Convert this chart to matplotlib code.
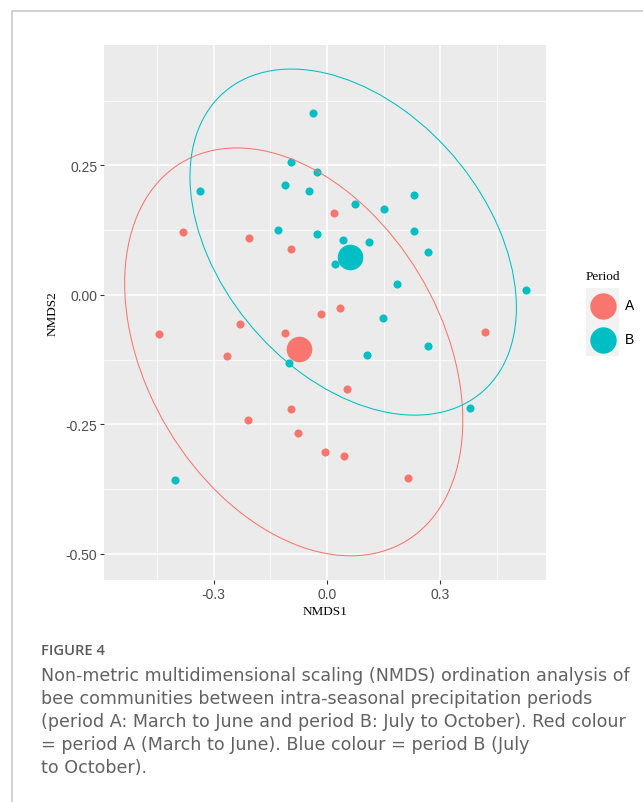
import numpy as np
import matplotlib
matplotlib.use("Agg")
import matplotlib.pyplot as plt
from matplotlib.patches import Ellipse, Rectangle
from matplotlib.lines import Line2D

# NMDS scores
period_a_x = [0.018, -0.381, -0.207, -0.094, 0.034, -0.016, -0.231, -0.445, -0.110,
              0.418, -0.266, 0.052, -0.096, -0.209, -0.077, -0.004, 0.046, 0.216]
period_a_y = [0.159, 0.122, 0.109, 0.089, -0.025, -0.037, -0.057, -0.076, -0.074,
              -0.071, -0.118, -0.182, -0.220, -0.241, -0.267, -0.304, -0.311, -0.353]
period_b_x = [-0.037, -0.096, -0.027, -0.337, -0.112, -0.047, 0.232, 0.074, 0.151,
              -0.131, -0.026, 0.230, 0.043, 0.112, 0.268, 0.022, 0.185, 0.527,
              0.148, 0.268, 0.107, -0.101, 0.380, -0.402]
period_b_y = [0.351, 0.256, 0.237, 0.201, 0.213, 0.201, 0.192, 0.175, 0.166,
              0.126, 0.118, 0.124, 0.107, 0.102, 0.083, 0.060, 0.022, 0.010,
              -0.044, -0.098, -0.116, -0.131, -0.219, -0.358]
centroid_a = (-0.074, -0.104)
centroid_b = (0.060, 0.073)

# 95% ellipses: centre x, centre y, full width, full height, angle (deg)
ellipse_a = (-0.088, -0.110, 0.983, 0.676, -34.5)
ellipse_b = (0.0695, 0.102, 0.929, 0.576, -27.7)

periods = ["A", "B"]
colours = ["#F8766D", "#00BFC4"]

x_ticks = [-0.3, 0.0, 0.3]
y_ticks = [-0.50, -0.25, 0.00, 0.25]

W, H = 643, 803
fig = plt.figure(figsize=(W / 100, H / 100), dpi=100)

def fx(px):
    return px / W

def fy(py):
    return 1 - py / H

# panel
ax = fig.add_axes([fx(104.3), fy(581), fx(546) - fx(104.3), fy(46) - fy(581)])
ax.set_facecolor("#EBEBEB")
for s in ax.spines.values():
    s.set_visible(False)
ax.set_xlim(-0.590, 0.5805)
ax.set_ylim(-0.5505, 0.4826)

ax.set_xticks(x_ticks)
ax.set_xticklabels(["-0.3", "0.0", "0.3"])
ax.set_yticks(y_ticks)
ax.set_yticklabels(["-0.50", "-0.25", "0.00", "0.25"])
ax.set_xticks([-0.45, -0.15, 0.15, 0.45], minor=True)
ax.set_yticks([-0.375, -0.125, 0.125, 0.375], minor=True)
ax.tick_params(which="major", length=3, width=0.8, color="#333333",
               labelsize=10, labelcolor="#4D4D4D", pad=2)
ax.tick_params(which="minor", length=0)
for lab in ax.get_xticklabels() + ax.get_yticklabels():
    lab.set_family("Liberation Sans")
ax.grid(which="major", color="white", lw=1.1)
ax.grid(which="minor", color="white", lw=0.55)
ax.set_axisbelow(True)

ax.scatter(period_a_x, period_a_y, s=34, color=colours[0], lw=0, zorder=3)
ax.scatter(period_b_x, period_b_y, s=34, color=colours[1], lw=0, zorder=3)
ax.scatter([centroid_a[0]], [centroid_a[1]], s=340, color=colours[0], lw=0, zorder=3)
ax.scatter([centroid_b[0]], [centroid_b[1]], s=340, color=colours[1], lw=0, zorder=3)

for e, c in zip([ellipse_a, ellipse_b], colours):
    ax.add_patch(Ellipse((e[0], e[1]), e[2], e[3], angle=e[4], fill=False,
                         edgecolor=c, lw=0.75, zorder=4))

ax.set_xlabel("NMDS1", family="Liberation Serif", fontsize=9.5, color="black", labelpad=3)
ax.set_ylabel("NMDS2", family="Liberation Serif", fontsize=9.5, color="black", labelpad=5)

# legend
fig.text(fx(586), fy(277), "Period", family="Liberation Serif", fontsize=9.5,
         va="center", ha="left")
fig.patches.append(Rectangle((fx(586), fy(357)), fx(619) - fx(586), fy(289) - fy(357),
                             transform=fig.transFigure, facecolor="#F2F2F2",
                             edgecolor="none"))
for i, (p, c) in enumerate(zip(periods, colours)):
    yy = 306.5 + 34 * i
    fig.lines.append(Line2D([fx(602.5)], [fy(yy)], transform=fig.transFigure,
                            marker="o", markersize=19, color=c, mec="none", ls="none"))
    fig.text(fx(625), fy(yy), p, family="Liberation Sans", fontsize=10,
             va="center", ha="left")

# frame of the figure box
fig.lines.append(Line2D([fx(11.5), fx(11.5), fx(643)], [fy(803), fy(11.5), fy(11.5)],
                        transform=fig.transFigure, color="#C8C8C8", lw=1.2))

# caption
fig.text(fx(41), fy(651.5), "FIGURE 4", family="Open Sans", fontweight="semibold",
         fontsize=10.6, color="#5A5A5A", va="center", ha="left")
caption = ["Non-metric multidimensional scaling (NMDS) ordination analysis of",
           "bee communities between intra-seasonal precipitation periods",
           "(period A: March to June and period B: July to October). Red colour",
           "= period A (March to June). Blue colour = period B (July",
           "to October)."]
for i, line in enumerate(caption):
    fig.text(fx(41), fy(676 + 23 * i), line, family="DejaVu Sans", fontsize=12.6,
             color="#626262", va="center", ha="left")

fig.savefig("out.png", dpi=100)
